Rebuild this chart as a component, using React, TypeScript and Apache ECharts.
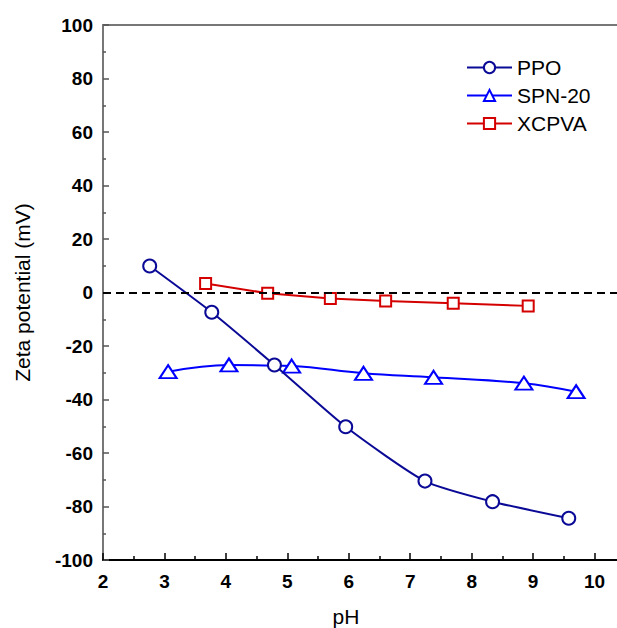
import React, { useEffect, useRef } from "react";
import * as echarts from "echarts";

const ppoX = [2.76, 3.77, 4.79, 5.95, 7.24, 8.34, 9.58];
const ppoY = [9.9, -7.4, -27.1, -50.2, -70.5, -78.2, -84.4];
const spnX = [3.06, 4.05, 5.07, 6.24, 7.38, 8.85, 9.7];
const spnY = [-29.6, -27.1, -27.5, -30.2, -31.7, -33.9, -37.1];
const xcpX = [3.67, 4.68, 5.7, 6.6, 7.7, 8.92];
const xcpY = [3.4, -0.3, -2.2, -3.2, -4.0, -5.0];
const seriesNames = ["PPO", "SPN-20", "XCPVA"];

const FONT = "'Liberation Sans', Arial, sans-serif";

export default function App() {
  const ref = useRef<HTMLDivElement>(null);
  useEffect(() => {
    if (!ref.current) return;
    const chart = echarts.init(ref.current, null, { renderer: "svg" });
    const pair = (xs: number[], ys: number[]) => xs.map((x, i) => [x, ys[i]]);
    chart.setOption({
      animation: false,
      grid: { left: 103, top: 25, right: 0, bottom: 68 },
      legend: {
        orient: "vertical",
        left: 461,
        top: 52,
        itemWidth: 45,
        itemHeight: 14,
        itemGap: 7,
        data: seriesNames,
        textStyle: { fontFamily: FONT, fontSize: 21, color: "#000", lineHeight: 21 },
      },
      xAxis: [
        {
          type: "value",
          min: 2,
          max: 11,
          interval: 1,
          axisLine: { show: true, onZero: false, lineStyle: { color: "#000", width: 2 } },
          axisTick: { show: true, inside: true, length: 7, lineStyle: { color: "#000", width: 1.5 } },
          minorTick: { show: true, splitNumber: 2, length: 4, lineStyle: { color: "#000", width: 1.5 } },
          splitLine: { show: false },
          axisLabel: {
            margin: 12,
            fontFamily: FONT,
            fontSize: 19,
            fontWeight: "bold",
            color: "#000",
            showMaxLabel: false,
            formatter: (v: number) => (v <= 10 ? String(v) : ""),
          },
        },
        {
          type: "value",
          position: "top",
          min: 2,
          max: 11,
          axisLine: { show: true, onZero: false, lineStyle: { color: "#777", width: 2 } },
          axisTick: { show: false },
          axisLabel: { show: false },
          splitLine: { show: false },
        },
      ],
      yAxis: {
        type: "value",
        min: -100,
        max: 100,
        interval: 20,
        name: "Zeta potential (mV)",
        nameLocation: "middle",
        nameGap: 70,
        nameTextStyle: { fontFamily: FONT, fontSize: 21, color: "#000" },
        axisLine: { show: true, onZero: false, lineStyle: { color: "#777", width: 2 } },
        axisTick: { show: true, inside: true, length: 6, lineStyle: { color: "#555", width: 1.5 } },
        minorTick: { show: true, splitNumber: 2, length: 3, lineStyle: { color: "#555", width: 1.5 } },
        splitLine: { show: false },
        axisLabel: {
          margin: 10,
          fontFamily: FONT,
          fontSize: 19,
          fontWeight: "bold",
          color: "#000",
        },
      },
      graphic: [
        {
          type: "text",
          x: 346,
          y: 616,
          style: {
            text: "pH",
            fontFamily: FONT,
            fontSize: 21,
            fill: "#000",
            align: "center",
            verticalAlign: "middle",
          },
        },
      ],
      series: [
        {
          name: "PPO",
          type: "line",
          data: pair(ppoX, ppoY),
          smooth: 0.2,
          symbol: "emptyCircle",
          symbolSize: 13,
          lineStyle: { color: "#0a0a96", width: 2 },
          itemStyle: { color: "#0a0a96", borderWidth: 1.8 },
          z: 3,
          markLine: {
            silent: true,
            symbol: "none",
            label: { show: false },
            lineStyle: { color: "#000", width: 2, type: [8, 5] },
            data: [{ yAxis: 0 }],
          },
        },
        {
          name: "SPN-20",
          type: "line",
          data: pair(spnX, spnY),
          smooth: 0.4,
          symbol: "emptyTriangle",
          symbolSize: [17, 13],
          lineStyle: { color: "#0000ff", width: 2 },
          itemStyle: { color: "#0000ff", borderWidth: 1.8 },
          z: 2,
        },
        {
          name: "XCPVA",
          type: "line",
          data: pair(xcpX, xcpY),
          symbol: "emptyRect",
          symbolSize: 11,
          lineStyle: { color: "#d40000", width: 2 },
          itemStyle: { color: "#d40000", borderWidth: 1.8 },
          z: 2,
        },
      ],
    });
    return () => chart.dispose();
  }, []);
  return (
    <div
      style={{
        position: "absolute",
        left: 0,
        top: 0,
        width: 617,
        height: 628,
        overflow: "hidden",
        background: "#fff",
      }}
    >
      <div ref={ref} style={{ width: 656, height: 628 }} />
    </div>
  );
}
